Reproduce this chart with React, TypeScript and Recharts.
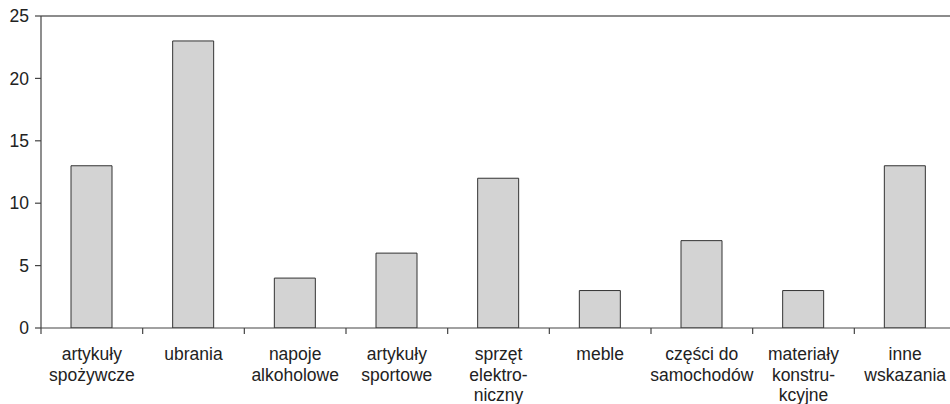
import React from "react";
import { BarChart, Bar, XAxis, YAxis, ReferenceLine } from "recharts";

const categories = [
  "artykuły\nspożywcze",
  "ubrania",
  "napoje\nalkoholowe",
  "artykuły\nsportowe",
  "sprzęt\nelektro-\nniczny",
  "meble",
  "części do\nsamochodów",
  "materiały\nkonstru-\nkcyjne",
  "inne\nwskazania",
];
const values = [13, 23, 4, 6, 12, 3, 7, 3, 13];
const yTicks = [0, 5, 10, 15, 20, 25];

const data = categories.map((c, i) => ({ name: c, value: values[i] }));

const W = 956;
const H = 404;
const Y_W = 41;
const BAND = (W - Y_W) / categories.length;
const FONT = "'Liberation Sans', Arial, Helvetica, sans-serif";
const AXIS = "#444";

const CatTick = (props: any) => {
  const { x, y, payload, index } = props;
  const lines = String(payload.value).split("\n");
  const ay = y - 8;
  return (
    <g>
      <line x1={x - BAND / 2} x2={x - BAND / 2} y1={ay} y2={ay + 6} stroke={AXIS} strokeWidth={1.2} />
      {index === categories.length - 1 && (
        <line x1={x + BAND / 2} x2={x + BAND / 2} y1={ay} y2={ay + 6} stroke={AXIS} strokeWidth={1.2} />
      )}
      <text x={x} y={ay + 32} textAnchor="middle" fill="#222" fontSize={17.5} fontFamily={FONT}>
        {lines.map((l, i) => (
          <tspan key={i} x={x} dy={i === 0 ? 0 : 20.5}>
            {l}
          </tspan>
        ))}
      </text>
    </g>
  );
};

export default function App() {
  return (
    <div style={{ position: "absolute", left: 0, top: 0, width: 950, height: 404, overflow: "hidden", background: "#fff" }}>
      <BarChart width={W} height={H} data={data} margin={{ top: 16, right: 0, bottom: 0, left: 0 }} barCategoryGap="30%">
        <XAxis
          dataKey="name"
          height={76}
          tickLine={false}
          tickSize={6}
          tickMargin={2}
          axisLine={{ stroke: AXIS, strokeWidth: 1.2 }}
          tick={<CatTick />}
          interval={0}
        />
        <YAxis
          width={Y_W}
          domain={[0, 25]}
          ticks={yTicks}
          allowDataOverflow
          tickSize={6}
          tickMargin={6}
          axisLine={{ stroke: AXIS, strokeWidth: 1.2 }}
          tickLine={{ stroke: AXIS, strokeWidth: 1.2 }}
          tick={{ fill: "#222", fontSize: 17.5, fontFamily: FONT }}
        />
        <ReferenceLine y={25} stroke="#666" strokeWidth={1.5} />
        <Bar dataKey="value" fill="#d3d3d3" stroke="#333" strokeWidth={1} barSize={41} isAnimationActive={false} />
      </BarChart>
    </div>
  );
}
